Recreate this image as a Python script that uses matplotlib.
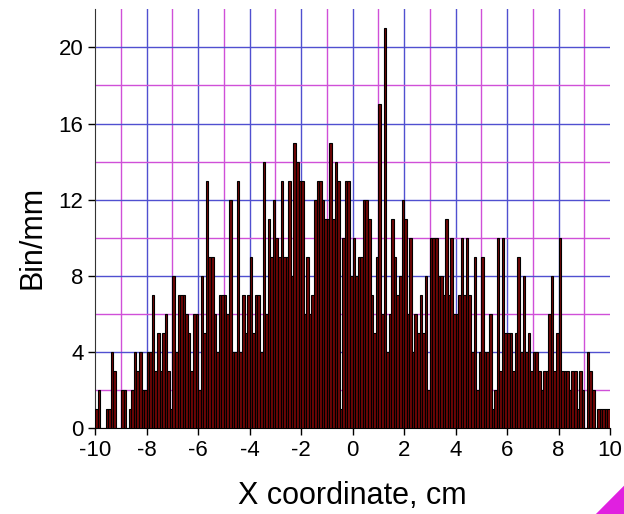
import numpy as np
import matplotlib.pyplot as plt
from matplotlib.patches import Polygon

# histogram counts per 1 mm bin, x from -10 cm to 10 cm
counts = [
    1, 2, 0, 0, 1, 1, 4, 3, 0, 0,
    2, 2, 0, 1, 2, 4, 3, 4, 2, 2,
    4, 4, 7, 3, 5, 3, 5, 6, 3, 1,
    8, 4, 7, 7, 7, 6, 5, 3, 6, 6,
    2, 8, 5, 13, 9, 9, 6, 4, 7, 7,
    7, 6, 12, 4, 4, 13, 4, 7, 5, 7,
    9, 5, 7, 7, 4, 14, 6, 11, 9, 12,
    10, 9, 13, 9, 9, 13, 8, 15, 14, 13,
    13, 6, 9, 6, 7, 12, 13, 13, 12, 11,
    11, 15, 11, 14, 13, 1, 10, 13, 13, 8,
    10, 8, 9, 9, 12, 12, 11, 7, 5, 9,
    17, 6, 21, 4, 6, 11, 9, 7, 8, 12,
    11, 6, 10, 4, 6, 5, 7, 5, 8, 2,
    10, 10, 10, 8, 8, 7, 11, 7, 10, 6,
    6, 7, 10, 7, 10, 7, 4, 9, 2, 4,
    9, 4, 4, 6, 1, 2, 10, 3, 10, 5,
    5, 5, 3, 5, 9, 4, 8, 4, 5, 3,
    4, 4, 3, 2, 3, 3, 6, 8, 3, 5,
    10, 3, 3, 3, 2, 3, 3, 1, 3, 2,
    0, 4, 3, 2, 0, 1, 1, 1, 1, 1,
]
x_min, x_max = -10, 10
bin_w = 0.1
x_ticks = [-10, -8, -6, -4, -2, 0, 2, 4, 6, 8, 10]
y_ticks = [0, 4, 8, 12, 16, 20]

plt.rcParams['font.family'] = ['Liberation Sans', 'DejaVu Sans']
plt.rcParams['axes.unicode_minus'] = False

fig = plt.figure(figsize=(6.24, 5.14), dpi=100)
ax = fig.add_axes([0.1526, 0.167, 0.825, 0.815])

left_edges = x_min + bin_w * np.arange(len(counts))
ax.bar(left_edges, counts, width=bin_w, align='edge',
       color='#700606', edgecolor='black', linewidth=0.8, zorder=3)

# grid: blue on major positions, magenta in between
for xv in range(-9, 10):
    c = '#5050d0' if xv % 2 == 0 else '#d050d8'
    ax.axvline(xv, color=c, linewidth=1.0, zorder=1)
for yv in range(2, 21, 2):
    c = '#5050d0' if yv % 4 == 0 else '#d050d8'
    ax.axhline(yv, color=c, linewidth=1.0, zorder=1)

ax.set_xlim(x_min, x_max)
ax.set_ylim(0, 22)
ax.set_xticks(x_ticks)
ax.set_yticks(y_ticks)
ax.tick_params(labelsize=16, direction='out', length=5, width=1)

for s in ['top', 'right']:
    ax.spines[s].set_visible(False)
ax.spines['left'].set_color('#333333')
ax.spines['bottom'].set_color('black')

ax.set_xlabel('X coordinate, cm', fontsize=22)
ax.set_ylabel('Bin/mm', fontsize=22)
ax.xaxis.set_label_coords(0.5, -0.126)
ax.yaxis.set_label_coords(-0.092, 0.455)

# magenta corner mark at bottom right
fig.patches.append(Polygon([[0.955, 0.0], [1.0, 0.055], [1.0, 0.0]],
                           closed=True, transform=fig.transFigure,
                           facecolor='#e020e0', edgecolor='none'))

fig.savefig('out.png', dpi=100)
